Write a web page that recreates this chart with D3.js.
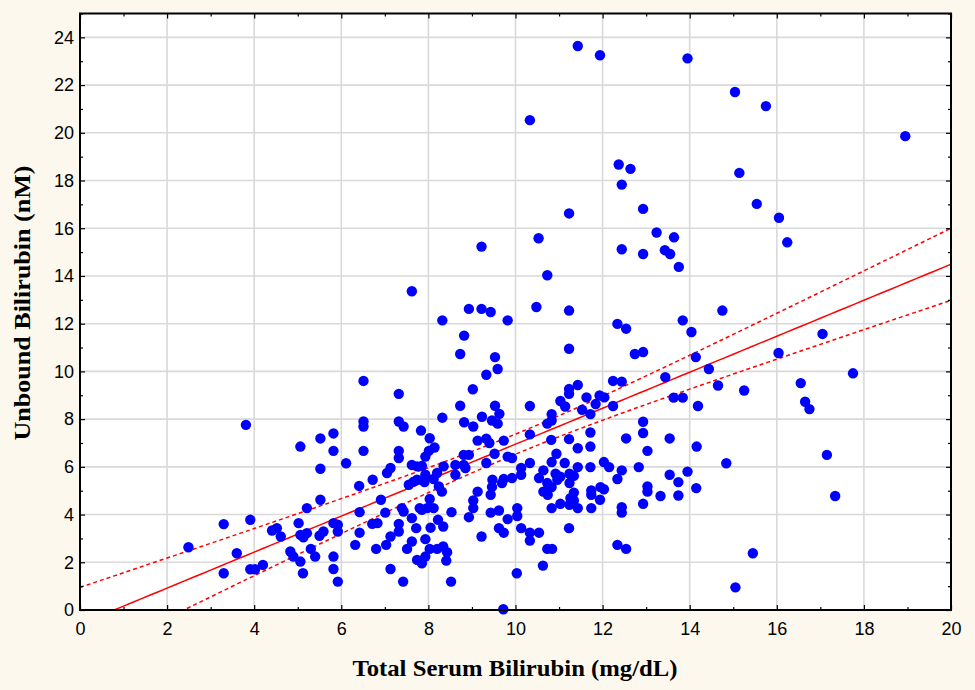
<!DOCTYPE html>
<html>
<head>
<meta charset="utf-8">
<script src="https://cdn.jsdelivr.net/npm/d3@7"></script>
<style>
body { margin: 0; background: #fdf8ed; }
svg { display: block; }
.tick text { font-family: "Liberation Sans", Arial, sans-serif; font-size: 18px; fill: #000; }
.tick line { stroke: #000; stroke-width: 1.2; }
.title { font-family: "Liberation Serif", "Times New Roman", serif; font-weight: bold; font-size: 23px; fill: #000; }
</style>
</head>
<body>
<svg id="chart" width="975" height="690"></svg>
<script>
// total serum bilirubin (mg/dL), unbound bilirubin (nM) - one pair per infant
var points = [
	[2.49,2.63],[3.30,3.60],[3.30,1.54],[3.60,2.38],[3.81,7.76],[3.91,3.78],[3.91,1.71],[4.02,1.71],[4.20,1.89],[4.41,3.33],
	[4.52,3.43],[4.61,3.08],[4.83,2.45],[4.90,2.24],[5.06,2.03],[5.12,1.54],[5.02,3.64],[5.06,3.15],[5.13,3.05],[5.21,3.22],
	[5.21,4.27],[5.06,6.85],[5.30,2.56],[5.40,2.24],[5.50,3.11],[5.59,3.29],[5.52,4.62],[5.52,5.92],[5.52,7.19],[5.82,7.40],
	[5.82,6.67],[5.82,3.64],[5.92,3.57],[5.92,3.29],[5.82,2.24],[5.82,1.72],[5.92,1.19],[6.11,6.15],[6.41,5.20],[6.42,4.10],
	[6.42,3.24],[6.32,2.73],[6.51,9.60],[6.51,7.90],[6.51,7.69],[6.51,6.67],[6.72,5.46],[6.71,3.61],[6.83,3.64],[6.91,4.62],
	[6.80,2.56],[7.03,2.73],[7.01,4.08],[7.13,3.08],[7.13,1.72],[7.05,5.74],[7.13,5.95],[7.32,9.06],[7.32,7.90],[7.43,7.69],
	[7.32,6.67],[7.32,6.37],[7.32,3.61],[7.32,3.29],[7.39,4.27],[7.43,4.13],[7.42,1.19],[7.55,5.25],[7.66,5.38],[7.74,5.46],
	[7.62,6.08],[7.74,6.02],[7.85,6.04],[7.62,13.36],[7.83,7.52],[8.03,7.20],[8.14,6.81],[8.01,6.67],[7.93,6.43],[7.93,5.67],
	[7.91,5.36],[8.12,5.49],[8.24,5.18],[8.31,4.96],[8.20,5.74],[8.35,6.02],[8.03,4.65],[7.80,4.27],[7.85,4.20],[7.97,4.27],
	[8.12,4.27],[7.62,3.85],[7.72,3.43],[8.05,3.45],[8.22,3.78],[8.34,3.50],[7.62,2.87],[7.51,2.56],[7.93,2.97],[8.03,2.56],
	[8.20,2.56],[8.34,2.66],[8.43,2.42],[8.41,2.07],[7.74,2.10],[7.85,1.96],[7.93,2.24],[8.52,1.19],[8.32,12.14],[8.32,8.06],
	[8.53,4.10],[8.62,6.08],[8.62,5.67],[8.73,10.73],[8.73,8.56],[8.82,11.50],[8.82,7.87],[8.81,6.50],[8.93,6.50],[8.81,6.08],
	[8.85,5.95],[8.93,12.62],[9.02,9.25],[9.03,7.69],[8.93,3.89],[9.03,4.59],[9.03,4.27],[9.13,4.96],[9.13,7.10],[9.22,12.62],
	[9.22,15.23],[9.23,8.10],[9.22,3.08],[9.33,9.86],[9.33,7.18],[9.33,6.16],[9.40,7.00],[9.43,12.49],[9.46,7.94],[9.53,10.60],
	[9.53,8.56],[9.52,6.55],[9.59,10.10],[9.59,7.81],[9.63,8.22],[9.47,5.46],[9.46,5.16],[9.43,4.83],[9.43,4.08],[9.62,4.17],
	[9.62,3.43],[9.73,3.24],[9.73,5.49],[9.69,5.32],[9.92,5.53],[9.73,7.10],[9.82,12.14],[9.82,6.43],[9.92,6.37],[9.82,3.81],
	[10.04,4.27],[10.04,3.94],[10.03,1.54],[9.72,0.03],[10.13,5.95],[10.13,5.67],[10.13,3.43],[10.33,20.53],[10.33,8.55],[10.33,7.36],
	[10.33,6.16],[10.33,3.24],[10.33,2.91],[10.48,12.70],[10.53,15.58],[10.54,5.53],[10.54,3.24],[10.64,5.85],[10.64,4.96],[10.63,1.86],
	[10.73,14.03],[10.73,7.81],[10.73,5.32],[10.74,4.83],[10.73,2.56],[10.84,2.56],[10.83,8.21],[10.83,7.94],[10.82,7.13],[10.83,6.20],
	[10.83,5.15],[10.83,4.27],[10.94,6.55],[10.92,5.71],[10.96,5.46],[11.03,8.76],[11.03,5.59],[11.03,4.45],[11.14,8.53],[11.13,6.16],
	[11.23,16.62],[11.23,12.55],[11.23,10.95],[11.23,9.26],[11.23,9.06],[11.23,7.16],[11.24,5.71],[11.24,5.32],[11.26,4.69],[11.24,4.41],
	[11.23,3.43],[11.34,5.62],[11.34,4.92],[11.34,4.59],[11.43,23.64],[11.43,9.43],[11.43,6.78],[11.43,5.99],[11.43,4.27],[11.53,8.39],
	[11.63,8.91],[11.72,8.21],[11.72,7.44],[11.72,6.85],[11.72,5.99],[11.74,5.01],[11.74,4.83],[11.74,4.27],[11.84,8.63],[11.93,8.99],
	[11.94,23.25],[11.95,5.15],[11.94,4.62],[12.04,8.91],[12.03,6.20],[12.03,5.06],[12.15,5.99],[12.24,9.60],[12.24,8.55],[12.34,11.99],
	[12.34,5.49],[12.34,2.73],[12.37,18.67],[12.44,17.83],[12.44,15.12],[12.44,9.57],[12.44,5.85],[12.44,4.31],[12.44,4.08],[12.54,11.79],
	[12.54,7.19],[12.54,2.56],[12.64,18.49],[12.74,10.73],[12.83,5.99],[12.93,16.81],[12.93,14.92],[12.93,10.81],[12.93,7.89],[12.93,7.42],
	[12.93,4.45],[13.03,6.67],[13.03,5.18],[13.03,4.96],[13.24,15.82],[13.33,4.78],[13.43,15.08],[13.44,9.76],[13.55,14.92],[13.54,7.19],
	[13.54,5.67],[13.64,15.62],[13.63,8.90],[13.74,5.36],[13.74,4.80],[13.75,14.38],[13.84,12.14],[13.84,8.90],[13.95,23.12],[13.95,5.80],
	[14.04,11.65],[14.14,10.60],[14.16,6.85],[14.19,8.55],[14.15,5.11],[14.44,10.10],[14.65,9.41],[14.75,12.55],[14.84,6.15],[15.04,21.71],
	[15.05,0.95],[15.14,18.32],[15.25,9.20],[15.45,2.38],[15.54,17.02],[15.75,21.12],[16.04,10.77],[16.05,16.44],[16.24,15.41],[16.55,9.51],
	[16.65,8.73],[16.75,8.42],[17.05,11.57],[17.15,6.50],[17.34,4.78],[17.75,9.92],[18.95,19.86]
];

var xMajor = [0, 2, 4, 6, 8, 10, 12, 14, 16, 18, 20];
var xMinor = [1, 3, 5, 7, 9, 11, 13, 15, 17, 19];
var yMajor = [0, 2, 4, 6, 8, 10, 12, 14, 16, 18, 20, 22, 24];
var yMinor = [1, 3, 5, 7, 9, 11, 13, 15, 17, 19, 21, 23, 25];

var xTitle = "Total Serum Bilirubin (mg/dL)";
var yTitle = "Unbound Bilirubin (nM)";

// fitted line and its 95% band
var fitIntercept = -0.59;
var fitSlope = 0.754;
var bandHalfMin = 0.42;
var bandCentre = 10.1;
var bandCurve = 0.0215;

var svg = d3.select("#chart");
var plotLeft = 80, plotRight = 951, plotTop = 13.5, plotBottom = 610;

var x = d3.scaleLinear().domain([0, 20]).range([plotLeft, plotRight]);
var y = d3.scaleLinear().domain([0, 25]).range([plotBottom, plotTop]);

svg.append("rect")
	.attr("x", plotLeft)
	.attr("y", plotTop)
	.attr("width", plotRight - plotLeft)
	.attr("height", plotBottom - plotTop)
	.attr("fill", "#fff");

// grid
svg.append("g")
	.selectAll("line")
	.data(xMajor.slice(1, -1))
	.enter().append("line")
	.attr("x1", function (d) { return x(d); })
	.attr("x2", function (d) { return x(d); })
	.attr("y1", plotTop)
	.attr("y2", plotBottom)
	.style("stroke", "#d9d9d9")
	.style("stroke-width", 1.6);

svg.append("g")
	.selectAll("line")
	.data(yMajor.slice(1))
	.enter().append("line")
	.attr("x1", plotLeft)
	.attr("x2", plotRight)
	.attr("y1", function (d) { return y(d); })
	.attr("y2", function (d) { return y(d); })
	.style("stroke", "#d9d9d9")
	.style("stroke-width", 1.6);

// regression line and band
svg.append("clipPath")
	.attr("id", "plotClip")
	.append("rect")
	.attr("x", plotLeft)
	.attr("y", plotTop)
	.attr("width", plotRight - plotLeft)
	.attr("height", plotBottom - plotTop);

function fitAt(v) {
	return fitIntercept + fitSlope * v;
}
function bandAt(v) {
	return Math.sqrt(bandHalfMin * bandHalfMin + bandCurve * (v - bandCentre) * (v - bandCentre));
}

var steps = d3.range(0, 20.001, 0.2);
var fitLayer = svg.append("g").attr("clip-path", "url(#plotClip)");

fitLayer.append("path")
	.datum(steps)
	.attr("d", d3.line().x(function (d) { return x(d); }).y(function (d) { return y(fitAt(d)); }))
	.style("fill", "none")
	.style("stroke", "#ff0000")
	.style("stroke-width", 1.5);

[1, -1].forEach(function (sign) {
	fitLayer.append("path")
		.datum(steps)
		.attr("d", d3.line().x(function (d) { return x(d); }).y(function (d) { return y(fitAt(d) + sign * bandAt(d)); }))
		.style("fill", "none")
		.style("stroke", "#ff0000")
		.style("stroke-width", 1.5)
		.style("stroke-dasharray", "4,3");
});

// points
svg.append("g")
	.selectAll("circle")
	.data(points)
	.enter().append("circle")
	.attr("cx", function (d) { return x(d[0]); })
	.attr("cy", function (d) { return y(d[1]); })
	.attr("r", 5.2)
	.style("fill", "#0000ff");

// axes, ticks pointing inward on all four sides
function axis(g, a) {
	g.call(a);
	g.select(".domain").remove();
}

axis(svg.append("g").attr("transform", "translate(0," + plotBottom + ")"),
	d3.axisBottom(x).tickValues(xMajor).tickSize(-5).tickPadding(12).tickFormat(d3.format("d")));
axis(svg.append("g").attr("transform", "translate(0," + plotBottom + ")"),
	d3.axisBottom(x).tickValues(xMinor).tickSize(-3).tickFormat(""));
axis(svg.append("g").attr("transform", "translate(0," + plotTop + ")"),
	d3.axisTop(x).tickValues(xMajor).tickSize(-5).tickFormat(""));
axis(svg.append("g").attr("transform", "translate(0," + plotTop + ")"),
	d3.axisTop(x).tickValues(xMinor).tickSize(-3).tickFormat(""));

axis(svg.append("g").attr("transform", "translate(" + plotLeft + ",0)"),
	d3.axisLeft(y).tickValues(yMajor).tickSize(-5).tickPadding(6).tickFormat(d3.format("d")));
axis(svg.append("g").attr("transform", "translate(" + plotLeft + ",0)"),
	d3.axisLeft(y).tickValues(yMinor).tickSize(-3).tickFormat(""));
axis(svg.append("g").attr("transform", "translate(" + plotRight + ",0)"),
	d3.axisRight(y).tickValues(yMajor).tickSize(-5).tickFormat(""));
axis(svg.append("g").attr("transform", "translate(" + plotRight + ",0)"),
	d3.axisRight(y).tickValues(yMinor).tickSize(-3).tickFormat(""));

svg.append("rect")
	.attr("x", plotLeft)
	.attr("y", plotTop)
	.attr("width", plotRight - plotLeft)
	.attr("height", plotBottom - plotTop)
	.style("fill", "none")
	.style("stroke", "#000")
	.style("stroke-width", 2);

svg.append("text")
	.attr("class", "title")
	.attr("x", 515)
	.attr("y", 676)
	.attr("text-anchor", "middle")
	.attr("textLength", 325)
	.attr("lengthAdjust", "spacingAndGlyphs")
	.text(xTitle);

svg.append("text")
	.attr("class", "title")
	.attr("transform", "translate(30,303) rotate(-90)")
	.attr("text-anchor", "middle")
	.attr("textLength", 275)
	.attr("lengthAdjust", "spacingAndGlyphs")
	.text(yTitle);
</script>
</body>
</html>
